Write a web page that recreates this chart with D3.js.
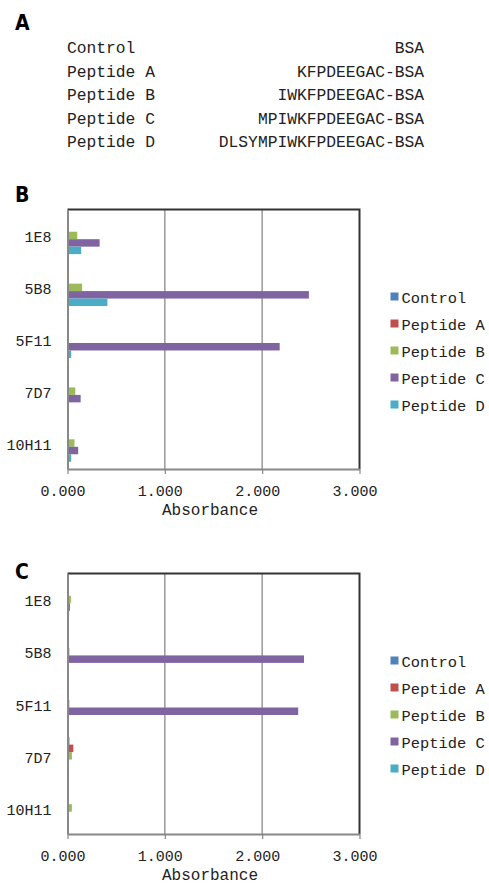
<!DOCTYPE html>
<html>
<head>
<meta charset="utf-8">
<script src="https://cdn.jsdelivr.net/npm/d3@7"></script>
<style>
  body { margin: 0; background: #fff; }
  svg { display: block; }
  text { font-family: "Liberation Mono", "DejaVu Sans Mono", monospace; fill: #222; }
  .panel-label { font-family: "DejaVu Sans", sans-serif; font-weight: bold; font-stretch: condensed; fill: #000; }
</style>
</head>
<body>
<svg id="chart" width="489" height="891"></svg>
<script>
// panel A: conjugates
const peptideNames = ["Control", "Peptide A", "Peptide B", "Peptide C", "Peptide D"];
const peptideSequences = ["BSA", "KFPDEEGAC-BSA", "IWKFPDEEGAC-BSA", "MPIWKFPDEEGAC-BSA", "DLSYMPIWKFPDEEGAC-BSA"];

// antibodies on the y axis
const categories = ["1E8", "5B8", "5F11", "7D7", "10H11"];
const seriesColors = ["#4F81BD", "#C0504D", "#9BBB59", "#8064A2", "#4BACC6"];
const xTicks = [0, 1, 2, 3];

// panel B absorbance, one array per series (order follows categories)
const bControl  = [0.000, 0.000, 0.000, 0.000, 0.000];
const bPeptideA = [0.012, 0.003, 0.012, 0.012, 0.003];
const bPeptideB = [0.100, 0.150, 0.004, 0.080, 0.072];
const bPeptideC = [0.330, 2.480, 2.180, 0.135, 0.110];
const bPeptideD = [0.140, 0.410, 0.038, 0.003, 0.038];

// panel C absorbance
const cControl  = [0.010, 0.003, 0.003, 0.020, 0.003];
const cPeptideA = [0.008, 0.003, 0.003, 0.060, 0.003];
const cPeptideB = [0.035, 0.020, 0.020, 0.045, 0.045];
const cPeptideC = [0.025, 2.430, 2.370, 0.005, 0.006];
const cPeptideD = [0.010, 0.015, 0.005, 0.005, 0.008];

const svg = d3.select("#chart");

// ---- panel A ----
svg.append("text").attr("class", "panel-label")
  .attr("x", 15).attr("y", 30).attr("font-size", 21).text("A");

const rowY = d3.scalePoint(peptideNames, [53, 147]);
const tbl = svg.append("g").attr("font-size", 16.3);
tbl.selectAll("text.name").data(peptideNames).join("text")
  .attr("class", "name")
  .attr("x", 67).attr("y", d => rowY(d)).text(d => d);
tbl.selectAll("text.seq").data(peptideSequences).join("text")
  .attr("class", "seq")
  .attr("x", 424).attr("text-anchor", "end")
  .attr("y", (d, i) => rowY(peptideNames[i])).text(d => d);

// ---- bar panels ----
function drawPanel({ label, labelY, top, bottom, values, legendTop }) {
  const left = 67.5, right = 359.5;
  const g = svg.append("g");

  g.append("text").attr("class", "panel-label")
    .attr("x", 15).attr("y", labelY).attr("font-size", 21).text(label);

  const x = d3.scaleLinear([0, 3], [left, right]);
  const y = d3.scaleBand(categories, [top, bottom]).paddingInner(0.28).paddingOuter(0.14);
  const ySub = d3.scaleBand(peptideNames, [0, y.bandwidth()]);

  // gridlines
  g.append("g").selectAll("line").data(xTicks.filter(t => t > 0 && t < 3)).join("line")
    .attr("x1", d => x(d)).attr("x2", d => x(d))
    .attr("y1", top).attr("y2", bottom)
    .attr("stroke", "#999").attr("stroke-width", 1.5);

  // top and right frame
  g.append("path")
    .attr("d", `M${left},${top}H${right}V${bottom}`)
    .attr("fill", "none").attr("stroke", "#333").attr("stroke-width", 2);

  // bars
  values.forEach((vals, si) => {
    g.append("g").attr("fill", seriesColors[si])
      .selectAll("rect").data(vals).join("rect")
      .attr("x", x(0))
      .attr("y", (d, ci) => y(categories[ci]) + ySub(peptideNames[si]))
      .attr("width", d => x(d) - x(0))
      .attr("height", ySub.bandwidth());
  });

  // x axis
  const xAxis = g.append("g")
    .attr("transform", `translate(0,${bottom})`)
    .call(d3.axisBottom(x).tickValues(xTicks).tickFormat(d3.format(".3f")).tickSize(5).tickSizeOuter(0));
  xAxis.attr("font-family", null);
  xAxis.select(".domain").attr("stroke", "#888").attr("stroke-width", 2);
  xAxis.selectAll(".tick line").attr("stroke", "#888").attr("stroke-width", 1.2);
  xAxis.selectAll(".tick text")
    .attr("font-size", 15).attr("fill", "#222")
    .attr("dx", -5).attr("y", 27).attr("dy", null);

  g.append("text")
    .attr("x", 210).attr("y", bottom + 46)
    .attr("text-anchor", "middle").attr("font-size", 16)
    .text("Absorbance");

  // y axis
  const yAxis = g.append("g")
    .attr("transform", `translate(${left},0)`)
    .call(d3.axisLeft(y).tickSize(0).tickSizeOuter(0).tickPadding(16));
  yAxis.attr("font-family", null);
  yAxis.select(".domain").attr("stroke", "#888").attr("stroke-width", 2);
  yAxis.selectAll(".tick text")
    .attr("font-size", 15).attr("fill", "#222")
    .attr("dy", "0.45em");

  // legend
  const ly = d3.scalePoint(peptideNames, [legendTop, legendTop + 108]);
  const leg = g.append("g");
  leg.selectAll("rect").data(peptideNames).join("rect")
    .attr("x", 390.5).attr("y", d => ly(d) - 4.5)
    .attr("width", 8).attr("height", 8)
    .attr("fill", (d, i) => seriesColors[i]);
  leg.selectAll("text").data(peptideNames).join("text")
    .attr("x", 401.5).attr("y", d => ly(d) + 5.5)
    .attr("font-size", 15.4).text(d => d);
}

drawPanel({
  label: "B", labelY: 202, top: 209.5, bottom: 469,
  values: [bControl, bPeptideA, bPeptideB, bPeptideC, bPeptideD],
  legendTop: 297
});

drawPanel({
  label: "C", labelY: 579, top: 573.5, bottom: 834,
  values: [cControl, cPeptideA, cPeptideB, cPeptideC, cPeptideD],
  legendTop: 661
});
</script>
</body>
</html>
